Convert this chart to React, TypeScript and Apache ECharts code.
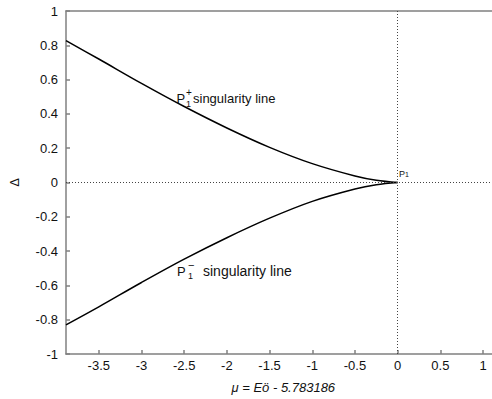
import React, { useEffect, useRef } from "react";
import * as echarts from "echarts";

const muValues = [-3.884, -3.5, -3.0, -2.5, -2.0, -1.5, -1.0, -0.5, -0.25, 0];
const upperDelta = [0.827, 0.72, 0.578, 0.443, 0.318, 0.205, 0.11, 0.038, 0.013, 0];
const lowerDelta = [-0.83, -0.725, -0.583, -0.447, -0.322, -0.208, -0.11, -0.038, -0.013, 0];
const xTicks = [-3.5, -3, -2.5, -2, -1.5, -1, -0.5, 0, 0.5, 1];
const xMin = -3.884;
const xMax = 1.1;

const FONT = "Liberation Sans, Arial, sans-serif";

export default function App() {
  const ref = useRef<HTMLDivElement>(null);
  useEffect(() => {
    if (!ref.current) return;
    const chart = echarts.init(ref.current, undefined, { renderer: "svg" });
    const upper = muValues.map((m, i) => [m, upperDelta[i]]);
    const lower = muValues.map((m, i) => [m, lowerDelta[i]]);
    const axisLineStyle = { color: "#808080", width: 1.5 };
    chart.setOption({
      animation: false,
      backgroundColor: "#ffffff",
      grid: { left: 63, top: 11, right: 0.4, bottom: 43.5, containLabel: false },
      xAxis: [
        {
          type: "value",
          min: xMin,
          max: xMax,
          position: "bottom",
          name: "μ = Eö - 5.783186",
          nameLocation: "middle",
          nameGap: 27,
          nameTextStyle: {
            fontFamily: FONT,
            fontSize: 13,
            fontStyle: "italic",
            color: "#111",
            padding: [0, 0, 0, 9],
          },
          axisLine: { show: true, onZero: false, lineStyle: axisLineStyle },
          axisTick: {
            show: true,
            inside: true,
            length: 4,
            customValues: xTicks,
            lineStyle: axisLineStyle,
          },
          axisLabel: {
            customValues: xTicks,
            fontFamily: FONT,
            fontSize: 13,
            color: "#111",
            margin: 5,
            formatter: (v: number) => String(Math.round(v * 10) / 10),
          },
          splitLine: { show: false },
        },
        {
          type: "value",
          min: xMin,
          max: xMax,
          position: "top",
          axisLine: { show: true, onZero: false, lineStyle: axisLineStyle },
          axisTick: { show: false },
          axisLabel: { show: false },
          splitLine: { show: false },
        },
      ],
      yAxis: {
        type: "value",
        min: -1,
        max: 1,
        interval: 0.2,
        name: "Δ",
        nameLocation: "middle",
        nameGap: 45,
        nameTextStyle: { fontFamily: FONT, fontSize: 13, color: "#111" },
        axisLine: { show: true, onZero: false, lineStyle: axisLineStyle },
        axisTick: { show: true, inside: true, length: 4, lineStyle: axisLineStyle },
        axisLabel: {
          fontFamily: FONT,
          fontSize: 13,
          color: "#111",
          margin: 8,
          formatter: (v: number) => String(Math.round(v * 10) / 10),
        },
        splitLine: { show: false },
      },
      series: [
        {
          type: "line",
          data: upper,
          smooth: 0.35,
          showSymbol: false,
          lineStyle: { color: "#000", width: 1.5 },
          markLine: {
            silent: true,
            symbol: "none",
            label: { show: false },
            lineStyle: { type: [1, 2], color: "#444", width: 1 },
            data: [{ xAxis: 0 }, { yAxis: 0 }],
          },
        },
        {
          type: "line",
          data: lower,
          smooth: 0.35,
          showSymbol: false,
          lineStyle: { color: "#000", width: 1.5 },
        },
      ],
      graphic: [
        { type: "text", x: 176.5, y: 98, style: { text: "P", fontFamily: FONT, fontSize: 13, fill: "#111", verticalAlign: "middle" } },
        { type: "text", x: 186, y: 92.5, style: { text: "+", fontFamily: FONT, fontSize: 10, fill: "#111", verticalAlign: "middle" } },
        { type: "text", x: 186, y: 103.5, style: { text: "1", fontFamily: FONT, fontSize: 9, fill: "#111", verticalAlign: "middle" } },
        { type: "text", x: 193, y: 98, style: { text: "singularity line", fontFamily: FONT, fontSize: 13, fill: "#111", verticalAlign: "middle" } },
        { type: "text", x: 177, y: 271, style: { text: "P", fontFamily: FONT, fontSize: 13, fill: "#111", verticalAlign: "middle" } },
        { type: "text", x: 188, y: 265, style: { text: "−", fontFamily: FONT, fontSize: 11, fill: "#111", verticalAlign: "middle" } },
        { type: "text", x: 188, y: 275.5, style: { text: "1", fontFamily: FONT, fontSize: 9, fill: "#111", verticalAlign: "middle" } },
        { type: "text", x: 203, y: 271, style: { text: "singularity line", fontFamily: FONT, fontSize: 14, fill: "#111", verticalAlign: "middle" } },
        {
          type: "text",
          x: 399,
          y: 173.5,
          style: {
            text: "{a|P}{b|1}",
            verticalAlign: "middle",
            rich: {
              a: { fontFamily: FONT, fontSize: 9, fill: "#111" },
              b: { fontFamily: FONT, fontSize: 7, fill: "#111", padding: [2, 0, 0, 0] },
            },
          },
        },
      ],
    });
    return () => chart.dispose();
  }, []);
  return <div ref={ref} style={{ width: 492, height: 399, position: "fixed", left: 0, top: 0 }} />;
}
